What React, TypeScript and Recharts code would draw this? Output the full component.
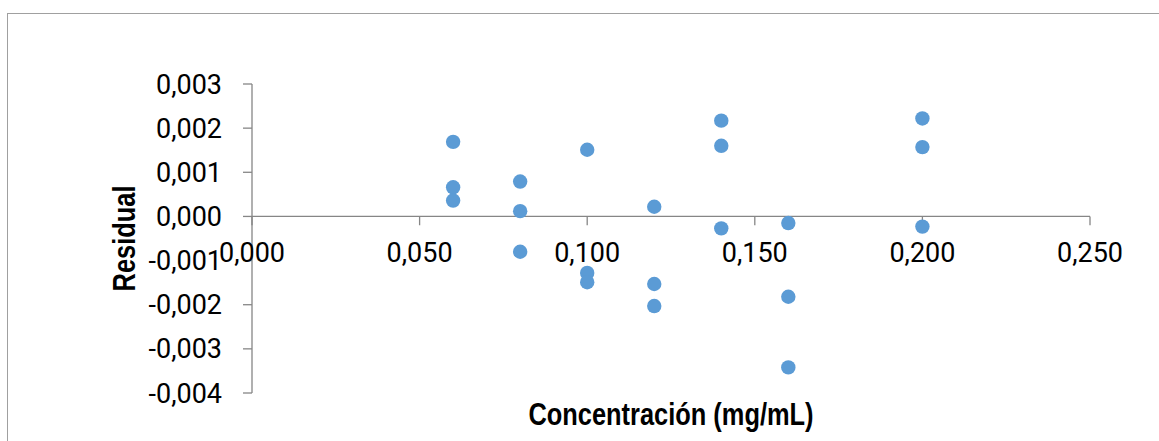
import React from 'react';
import {
  ScatterChart,
  Scatter,
  XAxis,
  YAxis,
  ReferenceLine,
  ReferenceDot,
} from 'recharts';

// Concentración (mg/mL) vs residual
const concentration = [
  0.06, 0.06, 0.06,
  0.08, 0.08, 0.08,
  0.1, 0.1, 0.1,
  0.12, 0.12, 0.12,
  0.14, 0.14, 0.14,
  0.16, 0.16, 0.16,
  0.2, 0.2, 0.2,
];
const residual = [
  0.00169, 0.00066, 0.00036,
  0.00079, 0.00012, -0.0008,
  0.00151, -0.00128, -0.00149,
  0.00022, -0.00153, -0.00203,
  0.00217, 0.0016, -0.00027,
  -0.00015, -0.00182, -0.00342,
  0.00222, 0.00157, -0.00023,
];
const xTicks = [0, 0.05, 0.1, 0.15, 0.2, 0.25];
const yTicks = [-0.004, -0.003, -0.002, -0.001, 0, 0.001, 0.002, 0.003];

const data = concentration.map((x, i) => ({ x, y: residual[i] }));

const AXIS = '#868686';
const DOT = '#5B9BD5';
const TICK_FONT = 'Roboto, sans-serif';
const TITLE_FONT = '"Liberation Sans", Arial, sans-serif';
const NARROW = 0.82; // Liberation Sans has no narrow cut here, squeeze it

const fmt = (v: number) => (Math.abs(v) < 1e-9 ? 0 : v).toFixed(3).replace('.', ',');

const Dot = (p: any) => <circle cx={p.cx} cy={p.cy} r={7.2} fill={DOT} />;

const XTitle = ({ viewBox }: any) => {
  const x = viewBox.x + viewBox.width / 2;
  const y = viewBox.y + 32;
  return (
    <text
      transform={`translate(${x} ${y}) scale(${NARROW} 1)`}
      textAnchor="middle"
      fontFamily={TITLE_FONT}
      fontWeight="bold"
      fontSize={31}
      fill="#000"
    >
      Concentración (mg/mL)
    </text>
  );
};

const YTitle = ({ viewBox }: any) => {
  const x = viewBox.x + 25;
  const y = viewBox.y + viewBox.height / 2;
  return (
    <text
      transform={`translate(${x} ${y}) rotate(-90) scale(${NARROW} 1)`}
      textAnchor="middle"
      fontFamily={TITLE_FONT}
      fontWeight="bold"
      fontSize={31}
      fill="#000"
    >
      Residual
    </text>
  );
};

const xTickLabel = (t: number) => ({ viewBox }: any) => (
  <text
    x={viewBox.x + viewBox.width / 2}
    y={viewBox.y + viewBox.height / 2 + 46}
    textAnchor="middle"
    fontFamily={TICK_FONT}
    fontSize={27}
    fill="#000"
  >
    {fmt(t)}
  </text>
);

export default function App() {
  return (
    <div style={{ position: 'absolute', left: 0, top: 0, width: 1159, height: 441, overflow: 'hidden', background: '#fff' }}>
      <div
        style={{
          position: 'absolute',
          left: 7,
          top: 13,
          width: 1200,
          height: 500,
          borderTop: '1px solid #a0a0a0',
          borderLeft: '1px solid #a0a0a0',
        }}
      />
      <div style={{ position: 'absolute', left: 0, top: 0 }}>
        <ScatterChart width={1159} height={441} margin={{ top: 84, right: 69, bottom: 0, left: 110 }}>
          <XAxis
            type="number"
            dataKey="x"
            domain={[0, 0.25]}
            ticks={xTicks}
            axisLine={false}
            tickLine={false}
            tick={false}
            height={48}
            label={{ content: <XTitle /> }}
          />
          <YAxis
            type="number"
            dataKey="y"
            domain={[-0.004, 0.003]}
            ticks={yTicks}
            interval={0}
            width={142}
            axisLine={{ stroke: AXIS, strokeWidth: 1.3 }}
            tickLine={{ stroke: AXIS, strokeWidth: 1.3 }}
            tickSize={9}
            tickMargin={21}
            tickFormatter={fmt}
            tick={{ fontFamily: TICK_FONT, fontSize: 27, fill: '#000' }}
            label={{ content: <YTitle /> }}
          />
          <ReferenceLine y={0} stroke={AXIS} strokeWidth={1.3} />
          {xTicks.map((t) => (
            <ReferenceLine
              key={`tick-${t}`}
              segment={[{ x: t, y: 0 }, { x: t, y: -0.0002 }]}
              stroke={AXIS}
              strokeWidth={1.3}
            />
          ))}
          {xTicks.map((t) => (
            <ReferenceDot
              key={`lab-${t}`}
              x={t}
              y={0}
              r={0}
              fill="none"
              stroke="none"
              label={{ content: xTickLabel(t) }}
            />
          ))}
          <Scatter data={data} shape={<Dot />} isAnimationActive={false} />
        </ScatterChart>
      </div>
    </div>
  );
}
